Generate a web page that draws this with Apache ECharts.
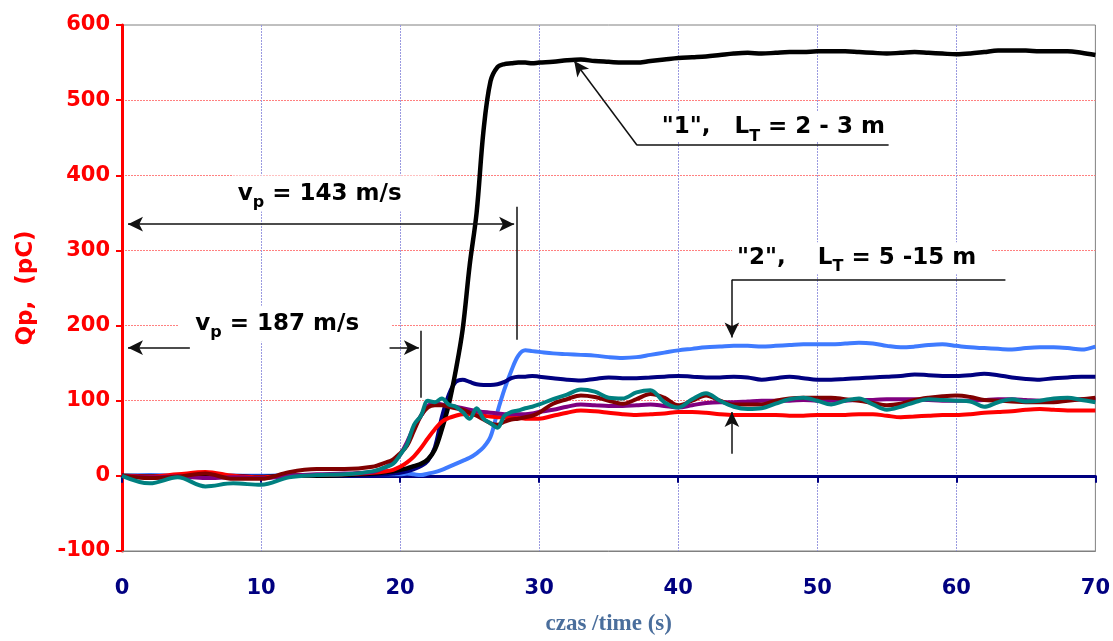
<!DOCTYPE html>
<html lang="pl">
<head>
<meta charset="UTF-8">
<title>Qp - czas</title>
<script src="https://cdn.jsdelivr.net/npm/echarts@6/dist/echarts.min.js"></script>
<style>
    html, body { margin: 0; padding: 0; background: #fff; }
    #main { width: 1113px; height: 641px; }
</style>
</head>
<body>
<div id="main"></div>
<script>
    // czas (s)
    var time = [0, 2, 4, 6, 8, 10, 12, 14, 16, 18,
        19, 19.5, 20, 20.5, 21, 21.5, 22, 22.5, 23, 23.5, 24, 24.5, 25, 25.5, 26, 26.5, 27, 27.5, 28, 28.5, 29, 29.5, 30,
        31, 32, 33, 34, 35, 36, 37, 38, 39, 40, 41, 42, 43, 44, 45, 46, 47, 48, 49, 50,
        51, 52, 53, 54, 55, 56, 57, 58, 59, 60, 61, 62, 63, 64, 65, 66, 67, 68, 69, 70];

    // Qp (pC)
    var black = [0, -1, 0, 1, -1, -2, 0, 0, 1, 3,
        5, 6, 8, 10, 13, 16, 22, 35, 62, 95, 140, 195, 280, 350, 460, 525, 544, 548, 549, 550, 550, 549, 550,
        551, 553, 554, 552, 551, 550, 550, 552, 554, 556, 557, 558, 560, 562, 563, 562, 563, 564, 564, 565,
        565, 565, 564, 563, 562, 563, 564, 563, 562, 561, 562, 564, 566, 566, 566, 565, 565, 565, 563, 560];
    var blue = [0, 1, 0, -1, 0, 0, 1, 0, 1, 2,
        2, 2, 2, 3, 2, 1, 3, 5, 8, 12, 16, 20, 24, 30, 38, 52, 85, 115, 140, 160, 167, 166, 165,
        163, 162, 161, 160, 158, 157, 158, 161, 164, 167, 169, 171, 172, 173, 173, 172, 173, 174, 175, 175,
        175, 176, 177, 176, 173, 171, 172, 174, 175, 173, 171, 170, 169, 168, 170, 171, 171, 170, 168, 172];
    var navy = [0, -2, -1, 0, 0, -1, 0, 0, 0, 1,
        2, 3, 4, 6, 9, 13, 20, 38, 78, 108, 125, 128, 125, 122, 121, 121, 122, 125, 130, 132, 132, 133, 132,
        130, 128, 127, 129, 131, 130, 130, 131, 132, 133, 132, 131, 131, 132, 131, 128, 130, 132, 130, 128,
        128, 129, 130, 131, 132, 133, 135, 134, 133, 133, 134, 136, 134, 131, 129, 128, 130, 131, 132, 132];
    var red = [0, -1, 2, 5, 0, -2, 0, 1, 2, 4,
        6, 8, 12, 18, 26, 37, 50, 62, 72, 77, 80, 82, 82, 81, 80, 79, 78, 78, 77, 77, 76, 76, 76,
        80, 84, 87, 86, 84, 82, 81, 82, 83, 85, 85, 84, 82, 81, 81, 81, 81, 80, 80, 81,
        81, 81, 82, 82, 80, 78, 79, 80, 81, 81, 82, 84, 85, 86, 88, 89, 88, 87, 87, 87];
    var purple = [0, -2, -1, -3, -2, -3, 0, 2, 3, 5,
        12, 18, 28, 45, 65, 80, 93, 97, 95, 93, 92, 90, 88, 86, 85, 84, 83, 82, 82, 82, 82, 83, 85,
        88, 92, 95, 94, 93, 93, 94, 95, 93, 91, 94, 97, 98, 98, 99, 100, 100, 100, 101, 100,
        100, 100, 101, 101, 102, 102, 102, 101, 100, 100, 100, 101, 102, 102, 101, 100, 100, 101, 102, 102];
    var darkred = [0, -3, -1, 3, -4, -4, 5, 9, 9, 12,
        18, 22, 30, 40, 60, 80, 91, 94, 94, 92, 90, 88, 84, 80, 75, 70, 68, 72, 75, 76, 78, 80, 84,
        96, 102, 107, 105, 100, 96, 102, 109, 104, 94, 100, 107, 100, 95, 95, 95, 100, 103, 104, 104,
        104, 102, 100, 97, 94, 96, 101, 104, 106, 107, 105, 101, 100, 99, 98, 98, 98, 100, 102, 104];
    var teal = [0, -10, -2, -14, -10, -12, -2, 1, 2, 6,
        12, 16, 28, 42, 68, 80, 100, 98, 103, 95, 92, 85, 76, 90, 76, 70, 64, 80, 85, 87, 90, 92, 95,
        102, 108, 115, 112, 104, 103, 111, 114, 98, 91, 102, 110, 100, 92, 89, 90, 96, 102, 104, 100,
        95, 100, 103, 95, 88, 92, 98, 102, 101, 100, 99, 92, 98, 102, 99, 100, 103, 104, 101, 98];

    var SANS = 'DejaVu Sans';

    function pairs(vals) {
        return time.map(function (t, i) { return [t, vals[i]]; });
    }

    function curve(name, vals, color, width) {
        return {
            name: name,
            type: 'line',
            data: pairs(vals),
            showSymbol: false,
            smooth: 0.35,
            lineStyle: {color: color, width: width},
            itemStyle: {color: color},
            emphasis: {disabled: true},
            silent: true
        };
    }

    var txt = {
        n: {fontFamily: SANS, fontWeight: 'bold', fontSize: 23, color: '#000', lineHeight: 28},
        s: {fontFamily: SANS, fontWeight: 'bold', fontSize: 16, color: '#000', lineHeight: 28, padding: [18, 0, 0, 0]}
    };

    function note(x, y, text, pad) {
        return {
            coord: [x, y],
            label: {formatter: text, padding: pad}
        };
    }

    function seg(a, b, endArrow, startArrow) {
        return [
            {coord: a, symbol: startArrow ? 'arrow' : 'none'},
            {coord: b, symbol: endArrow ? 'arrow' : 'none'}
        ];
    }

    var blackSeries = curve('1', black, '#000000', 4.5);
    blackSeries.markLine = {
        silent: true,
        animation: false,
        symbolSize: [11, 15],
        lineStyle: {color: '#111', width: 1.5, type: 'solid'},
        label: {show: false},
        emphasis: {disabled: true},
        data: [
            seg([0.43, 335], [28.2, 335], true, true),
            seg([28.36, 358], [28.36, 181]),
            seg([4.88, 170.6], [0.43, 170.6], true),
            seg([19.24, 170.6], [21.35, 170.6], true),
            seg([21.5, 193], [21.5, 104]),
            seg([55.13, 440], [37.04, 440]),
            seg([37.04, 440], [32.52, 552], true),
            seg([63.53, 261], [43.86, 261]),
            seg([43.86, 261], [43.86, 184], true),
            seg([43.86, 29.5], [43.86, 85], true)
        ]
    };
    blackSeries.markPoint = {
        silent: true,
        animation: false,
        symbol: 'rect',
        symbolSize: 1,
        itemStyle: {color: 'rgba(0,0,0,0)'},
        label: {
            show: true,
            position: 'inside',
            backgroundColor: '#fff',
            rich: txt
        },
        data: [
            note(15.33, 375.7, '{n|v}{s|p}{n| = 143 m/s}', [4, 36, 4, 5]),
            note(11.70, 202.5, '{n|v}{s|p}{n| = 187 m/s}', [4, 32, 4, 17]),
            note(46.84, 465, '{n|"1",   L}{s|T}{n| = 2 - 3 m}', [2, 6, 0, 6]),
            note(53.19, 289.7, '{n|"2",    L}{s|T}{n| = 5 -15 m}', [2, 15, 2, 5])
        ]
    };

    var option = {
        animation: false,
        backgroundColor: '#fff',
        grid: {
            left: 122, right: 16, top: 25, bottom: 87,
            show: true, borderColor: '#808080', borderWidth: 1, backgroundColor: 'transparent'
        },
        xAxis: [{
            type: 'value',
            min: 0, max: 70, interval: 10,
            position: 'bottom',
            name: 'czas /time (s)',
            nameLocation: 'middle',
            nameGap: 62,
            nameTextStyle: {fontFamily: 'Liberation Serif', fontWeight: 'bold', fontSize: 23, color: '#4a6e9c'},
            axisLine: {onZero: false, lineStyle: {color: '#808080', width: 1}},
            axisTick: {show: false},
            axisLabel: {fontFamily: SANS, fontWeight: 'bold', fontSize: 21, color: '#000080', margin: 27},
            splitLine: {show: true, showMinLine: false, showMaxLine: false,
                lineStyle: {color: '#9a9ae0', width: 1, type: [2, 1]}}
        }, {
            type: 'value',
            min: 0, max: 70, interval: 10,
            position: 'bottom',
            axisLine: {onZero: true, lineStyle: {color: '#000080', width: 3}},
            axisTick: {show: true, length: 7, lineStyle: {color: '#000080', width: 2}},
            axisLabel: {show: false},
            splitLine: {show: false}
        }],
        yAxis: {
            type: 'value',
            min: -100, max: 600, interval: 100,
            name: 'Qp,  (pC)',
            nameLocation: 'middle',
            nameGap: 84,
            nameTextStyle: {fontFamily: SANS, fontWeight: 'bold', fontSize: 23, color: '#ff0000'},
            axisLine: {show: true, onZero: false, lineStyle: {color: '#ff0000', width: 3}},
            axisTick: {show: true, length: 6, lineStyle: {color: '#ff0000', width: 2}},
            axisLabel: {fontFamily: SANS, fontWeight: 'bold', fontSize: 21, color: '#ff0000', margin: 12},
            splitLine: {show: true, showMinLine: false, showMaxLine: false,
                lineStyle: {color: '#ff8080', width: 1, type: [2, 1]}}
        },
        series: [
            curve('4', blue, '#3f7bff', 4),
            curve('5', navy, '#000080', 4),
            blackSeries,
            curve('3', red, '#ff0000', 4),
            curve('6', purple, '#800080', 4),
            curve('7', darkred, '#800000', 4),
            curve('2', teal, '#008080', 4)
        ]
    };

    var myChart = echarts.init(document.getElementById('main'));
    myChart.setOption(option);
    window.onresize = function () {
        myChart.resize();
    };
</script>
</body>
</html>
